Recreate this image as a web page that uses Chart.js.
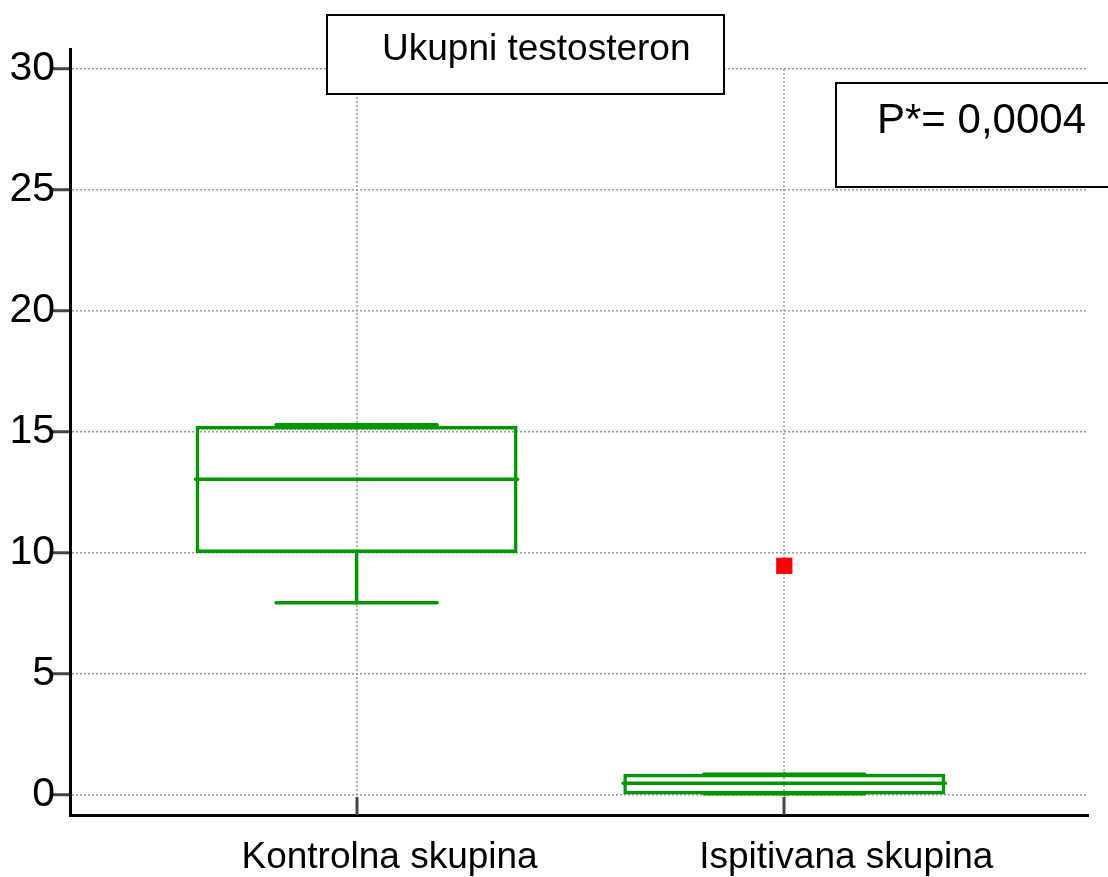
<!DOCTYPE html>
<html>
<head>
<meta charset="utf-8">
<title>Ukupni testosteron</title>
<script src="https://cdn.jsdelivr.net/npm/chart.js@4/dist/chart.umd.min.js"></script>
<style>
  html, body { margin: 0; padding: 0; background: #fff; }
  canvas { display: block; }
</style>
</head>
<body>
<canvas id="boxChart" width="1108" height="877"></canvas>
<script>
// values
const groups = ['Kontrolna skupina', 'Ispitivana skupina'];
const whiskerLow = [7.94, 0.05];
const q1 = [10.0, 0.02];
const median = [13.05, 0.48];
const q3 = [15.25, 0.88];
const whiskerHigh = [15.3, 0.85];
const outlierGroup = [2];
const outlierValue = [9.47];
const yTicks = [0, 5, 10, 15, 20, 25, 30];
const chartTitle = 'Ukupni testosteron';
const pText = 'P*= 0,0004';

const GREEN = 'rgb(0,150,0)';
const FONT = "'Liberation Sans', Arial, sans-serif";

const boxParts = {
    id: 'boxParts',
    beforeDatasetsDraw(chart) {
        // vertical dotted grid at each group
        const {ctx, scales: {x, y}} = chart;
        ctx.save();
        ctx.strokeStyle = '#999';
        ctx.lineWidth = 1.5;
        ctx.setLineDash([2, 2]);
        groups.forEach((g, i) => {
            const px = Math.round(x.getPixelForValue(i + 1));
            ctx.beginPath();
            ctx.moveTo(px, y.getPixelForValue(yTicks[yTicks.length - 1]));
            ctx.lineTo(px, y.getPixelForValue(0));
            ctx.stroke();
        });
        ctx.restore();
    },
    afterDatasetsDraw(chart) {
        const {ctx, scales: {x, y}} = chart;
        const bars = chart.getDatasetMeta(0).data;
        ctx.save();
        ctx.strokeStyle = GREEN;
        ctx.lineWidth = 3.5;
        ctx.lineCap = 'round';
        groups.forEach((g, i) => {
            const cx = x.getPixelForValue(i + 1);
            const half = bars[i].width / 2;
            const cap = half / 2;
            const line = (x1, y1, x2, y2) => {
                ctx.beginPath();
                ctx.moveTo(x1, y1);
                ctx.lineTo(x2, y2);
                ctx.stroke();
            };
            // median
            line(cx - half, y.getPixelForValue(median[i]), cx + half, y.getPixelForValue(median[i]));
            // whiskers
            line(cx, y.getPixelForValue(q1[i]), cx, y.getPixelForValue(whiskerLow[i]));
            line(cx, y.getPixelForValue(q3[i]), cx, y.getPixelForValue(whiskerHigh[i]));
            line(cx - cap, y.getPixelForValue(whiskerLow[i]), cx + cap, y.getPixelForValue(whiskerLow[i]));
            line(cx - cap, y.getPixelForValue(whiskerHigh[i]), cx + cap, y.getPixelForValue(whiskerHigh[i]));
        });
        ctx.restore();
    },
    afterDraw(chart) {
        const {ctx, scales: {x}} = chart;
        ctx.save();
        // inner tick marks on the x axis
        ctx.strokeStyle = '#444';
        ctx.lineWidth = 3;
        groups.forEach((g, i) => {
            const px = Math.round(x.getPixelForValue(i + 1));
            ctx.beginPath();
            ctx.moveTo(px, x.top);
            ctx.lineTo(px, x.top - 18);
            ctx.stroke();
        });
        // category labels (sit a bit right of their ticks in the original)
        const labelShift = [33, 62];
        ctx.fillStyle = '#000';
        ctx.font = '37px ' + FONT;
        ctx.textAlign = 'center';
        ctx.textBaseline = 'alphabetic';
        groups.forEach((g, i) => {
            ctx.fillText(g, x.getPixelForValue(i + 1) + labelShift[i], 868);
        });
        // title box
        ctx.textAlign = 'left';
        ctx.fillStyle = '#fff';
        ctx.fillRect(327, 15, 397, 79);
        ctx.strokeStyle = '#000';
        ctx.lineWidth = 2;
        ctx.strokeRect(327, 15, 397, 79);
        ctx.fillStyle = '#000';
        ctx.fillText(chartTitle, 382, 60);
        // p-value box, running off the right edge
        ctx.fillStyle = '#fff';
        ctx.fillRect(836, 83, 300, 104);
        ctx.strokeRect(836, 83, 300, 104);
        ctx.fillStyle = '#000';
        ctx.font = '42px ' + FONT;
        ctx.fillText(pText, 877, 133);
        ctx.restore();
    }
};

new Chart(document.getElementById('boxChart'), {
    type: 'bar',
    data: {
        datasets: [{
            label: 'box',
            data: groups.map((g, i) => ({x: i + 1, y: [q1[i], q3[i]]})),
            backgroundColor: 'rgba(255,255,255,0)',
            borderColor: GREEN,
            borderWidth: 3.5,
            borderSkipped: false,
            inflateAmount: 0,
            barThickness: 322
        }, {
            type: 'scatter',
            label: 'outlier',
            data: outlierGroup.map((g, i) => ({x: g, y: outlierValue[i]})),
            pointStyle: 'rect',
            pointRadius: 11.5,
            backgroundColor: 'rgb(255,0,0)',
            borderWidth: 0
        }]
    },
    options: {
        responsive: false,
        animation: false,
        devicePixelRatio: 1,
        layout: {padding: {top: 49, right: 20, left: 0, bottom: 0}},
        plugins: {
            legend: {display: false},
            tooltip: {enabled: false}
        },
        scales: {
            x: {
                type: 'linear',
                min: 0.33,
                max: 2.71,
                offset: false,
                grid: {display: false},
                border: {display: true, color: '#000', width: 3},
                ticks: {display: false},
                afterFit(scale) { scale.height = 62; }
            },
            y: {
                type: 'linear',
                min: -0.83,
                max: 30.83,
                afterBuildTicks(scale) { scale.ticks = yTicks.map(v => ({value: v})); },
                ticks: {
                    color: '#000',
                    padding: -3,
                    font: {family: FONT, size: 41}
                },
                grid: {
                    color: '#999',
                    lineWidth: 1.5,
                    tickLength: 18,
                    tickColor: '#444',
                    tickWidth: 3,
                    tickBorderDash: []
                },
                border: {display: true, color: '#000', width: 3, dash: [2, 2]},
                afterFit(scale) { scale.width = 70; }
            }
        }
    },
    plugins: [boxParts]
});
</script>
</body>
</html>
